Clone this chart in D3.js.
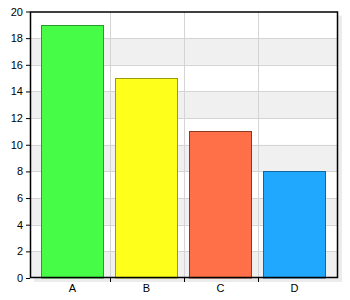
<!DOCTYPE html>
<html><head><meta charset="utf-8">
<script src="https://cdn.jsdelivr.net/npm/d3@7"></script>
<style>body{margin:0;background:#fff;} svg{display:block;}</style>
</head><body>
<svg id="c" width="350" height="300"></svg>
<script>
const categories = ["A","B","C","D"];
const values = [19,15,11,8];
const fills = ["#47fc47","#ffff1c","#ff7048","#20a8ff"];
const strokes = ["#2a9a2a","#9a9a10","#8a3a20","#1068a0"];
const yTicks = [0,2,4,6,8,10,12,14,16,18,20];

const svg = d3.select("#c");
const L=30, R=338, T=11.5, B=278;
const x = d3.scaleBand().domain(categories).range([35.5,331.5]).padding(0);
const y = d3.scaleLinear().domain([0,20]).range([B,T]);

// shadow
svg.append("rect").attr("x",L+4).attr("y",T+4).attr("width",R-L).attr("height",B-T).attr("fill","#ececec");
svg.append("rect").attr("x",L).attr("y",T).attr("width",R-L).attr("height",B-T).attr("fill","#fff");
// bands
for(let i=0;i<yTicks.length-1;i+=2){
  svg.append("rect").attr("x",L).attr("width",R-L)
    .attr("y",y(yTicks[i+1])).attr("height",y(yTicks[i])-y(yTicks[i+1])).attr("fill","#f0f0f0");
}
// grid
svg.append("g").selectAll("line").data(yTicks.slice(1,-1)).join("line")
  .attr("x1",L).attr("x2",R).attr("y1",d=>Math.round(y(d))+0.5).attr("y2",d=>Math.round(y(d))+0.5)
  .attr("stroke","#d4d4d4");
const bounds = categories.slice(1).map(c=>x(c));
svg.append("g").selectAll("line").data(bounds).join("line")
  .attr("x1",d=>Math.round(d)+0.5).attr("x2",d=>Math.round(d)+0.5).attr("y1",T).attr("y2",B)
  .attr("stroke","#d4d4d4");
// bars
const bw = x.bandwidth()*0.84;
svg.append("g").selectAll("rect").data(values).join("rect")
  .attr("x",(d,i)=>Math.round(x(categories[i])+(x.bandwidth()-bw)/2)+0.5)
  .attr("y",d=>Math.round(y(d))+0.5)
  .attr("width",Math.round(bw))
  .attr("height",d=>B-Math.round(y(d))-0.5)
  .attr("fill",(d,i)=>fills[i]).attr("stroke",(d,i)=>strokes[i]);
// frame
svg.append("rect").attr("x",L+0.5).attr("y",T+0.5).attr("width",R-L-1).attr("height",B-T-1)
  .attr("fill","none").attr("stroke","#000").attr("stroke-width",1.5);
// y axis
const ya = svg.append("g").attr("transform",`translate(${L},0)`)
  .call(d3.axisLeft(y).tickValues(yTicks).tickSize(4).tickPadding(3));
ya.select(".domain").remove();
ya.selectAll("line").attr("stroke","#000");
ya.selectAll("text").attr("font-family","Liberation Sans, Arial, sans-serif").attr("font-size","11px").attr("fill","#000");
// x axis
const xa = svg.append("g").attr("transform",`translate(0,${B})`)
  .call(d3.axisBottom(x).tickSize(0).tickPadding(6));
xa.select(".domain").remove();
xa.selectAll("text").attr("font-family","Liberation Sans, Arial, sans-serif").attr("font-size","11px").attr("fill","#000");
svg.append("g").selectAll("line").data(bounds).join("line")
  .attr("x1",d=>Math.round(d)+0.5).attr("x2",d=>Math.round(d)+0.5).attr("y1",B).attr("y2",B+4)
  .attr("stroke","#000");
</script>
</body></html>
